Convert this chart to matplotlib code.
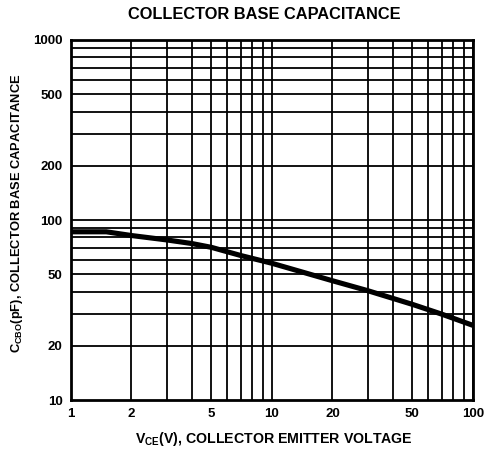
import matplotlib
matplotlib.use("Agg")
import matplotlib.pyplot as plt
import numpy as np

plt.rcParams['font.family'] = ['Liberation Sans', 'DejaVu Sans']
plt.rcParams['mathtext.fontset'] = 'custom'
plt.rcParams['mathtext.rm'] = 'Liberation Sans:bold'
plt.rcParams['mathtext.bf'] = 'Liberation Sans:bold'
plt.rcParams['mathtext.it'] = 'Liberation Sans:bold'
plt.rcParams['mathtext.default'] = 'bf'

# Data
vce = [1, 1.5, 2, 3, 4, 5, 7, 10, 20, 30, 50, 70, 100]
ccbo = [86, 86, 82, 77.5, 74, 70.5, 63.5, 57.5, 46, 40.5, 34, 30, 26]

x_ticks = [1, 2, 5, 10, 20, 50, 100]
x_tick_labels = ['1', '2', '5', '10', '20', '50', '100']
y_ticks = [10, 20, 50, 100, 200, 500, 1000]
y_tick_labels = ['10', '20', '50', '100', '200', '500', '1000']
x_grid = [1, 2, 3, 4, 5, 6, 7, 8, 9, 10, 20, 30, 40, 50, 60, 70, 80, 90, 100]
y_grid = [20, 30, 40, 50, 60, 70, 80, 90, 100, 200, 300, 400, 500, 600, 700, 800, 900, 1000]

title = 'COLLECTOR BASE CAPACITANCE'
xlabel = r'$\mathregular{V_{CE}}$(V), COLLECTOR EMITTER VOLTAGE'
ylabel = r'$\mathregular{C_{CBO}}$(pF), COLLECTOR BASE CAPACITANCE'

fig = plt.figure(figsize=(4.86, 4.49), dpi=100)
ax = fig.add_axes([0.146, 0.109, 0.827, 0.802])
ax.set_xscale('log')
ax.set_yscale('log')
ax.set_xlim(1, 100)
ax.set_ylim(10, 1000)

for xv in x_grid:
    ax.axvline(xv, color='black', lw=1.3, zorder=1)
for yv in y_grid:
    ax.axhline(yv, color='black', lw=1.3, zorder=1)

ax.plot(vce, ccbo, color='black', lw=3.7, solid_capstyle='butt', zorder=3)

ax.set_xticks(x_ticks)
ax.set_xticklabels(x_tick_labels)
ax.set_yticks(y_ticks)
ax.set_yticklabels(y_tick_labels)
ax.minorticks_off()
ax.tick_params(length=0, labelsize=9.5, pad=6)
for lab in ax.get_xticklabels() + ax.get_yticklabels():
    lab.set_fontweight('bold')

for sp in ax.spines.values():
    sp.set_linewidth(2)
    sp.set_zorder(4)

fig.text(0.543, 0.968, title, ha='center', va='center', fontsize=11.8, fontweight='bold')
ax.set_xlabel(xlabel, fontsize=10.2, fontweight='bold')
ax.xaxis.set_label_coords(0.505, -0.082)
ax.set_ylabel(ylabel, fontsize=9.3, fontweight='bold')
ax.yaxis.set_label_coords(-0.115, 0.52)

fig.savefig('out.png', dpi=100)
